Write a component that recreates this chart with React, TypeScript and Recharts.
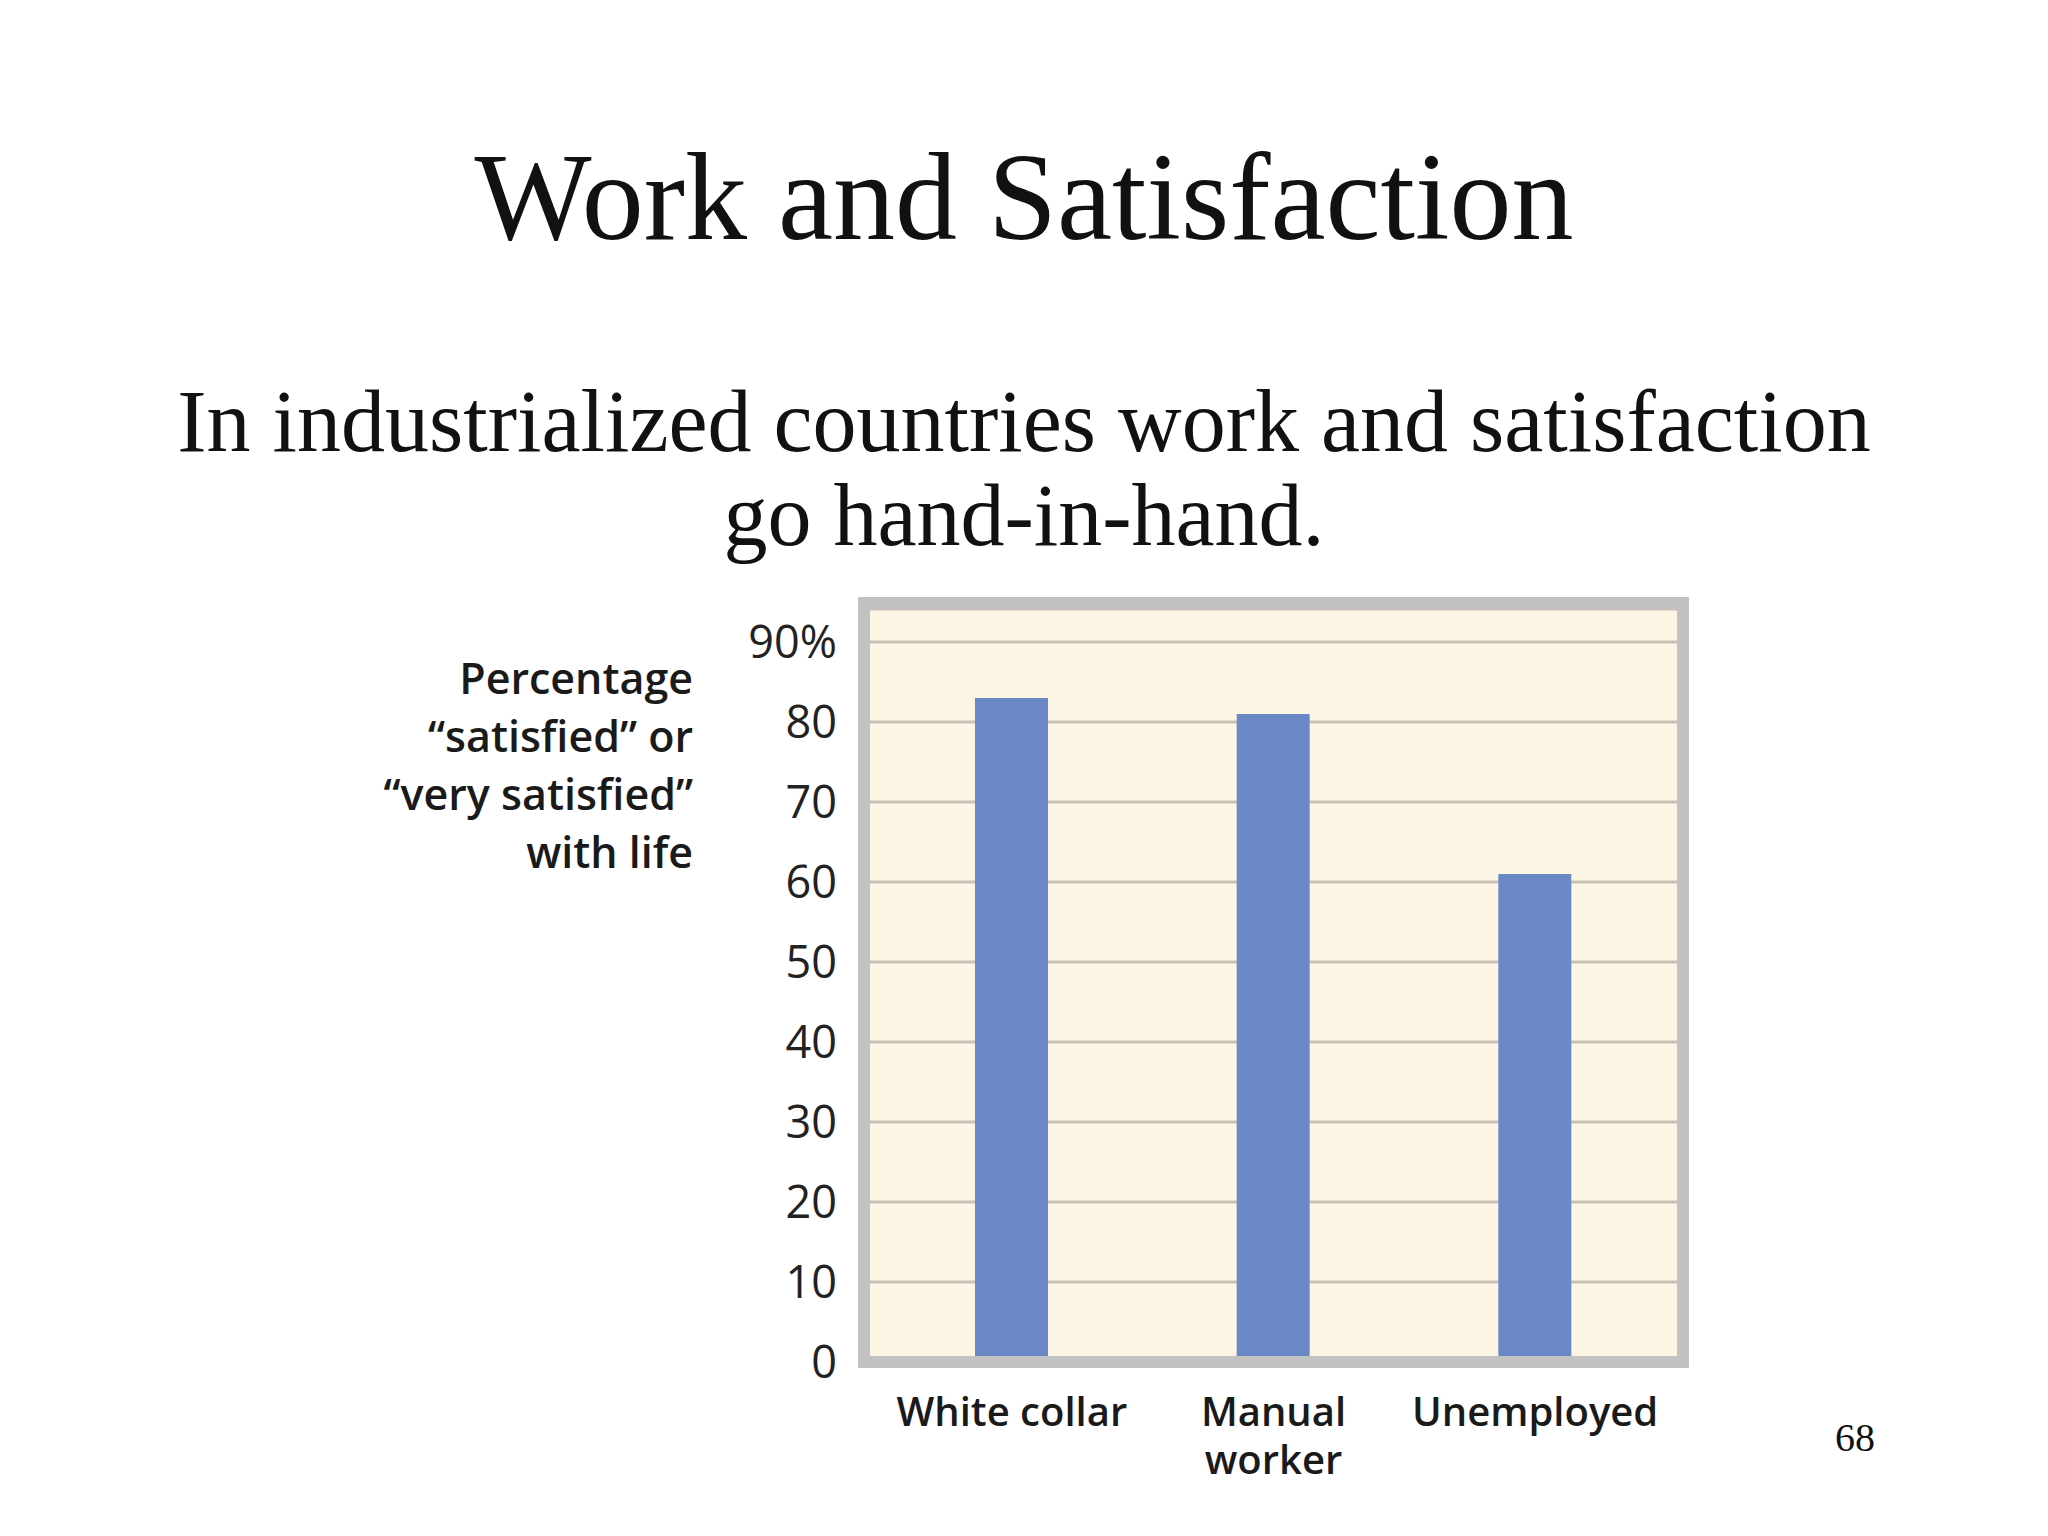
import { BarChart, Bar, XAxis, YAxis, CartesianGrid, Label } from 'recharts'

// values
const categories = ['White collar', 'Manual worker', 'Unemployed']
const satisfied = [83, 81, 61]
const tickLines = [['White collar'], ['Manual', 'worker'], ['Unemployed']]
const yTicks = [0, 10, 20, 30, 40, 50, 60, 70, 80, 90]
const yLabelLines = ['Percentage', '\u201csatisfied\u201d or', '\u201cvery satisfied\u201d', 'with life']

const chartData = categories.map((name, i) => ({ name, value: satisfied[i] }))

const sans = '"Open Sans", "Noto Sans", sans-serif'
const serif = '"Liberation Serif", "DejaVu Serif", serif'

function CategoryTick({ x, y, index }: any) {
  const lines = tickLines[index] || []
  return (
    <text x={x} y={y} textAnchor="middle" fill="#1a1a1a" fontFamily={sans} fontSize={40} fontWeight={600}>
      {lines.map((line, i) => (
        <tspan key={i} x={x} dy={i === 0 ? 64 : 48}>
          {line}
        </tspan>
      ))}
    </text>
  )
}

function AxisTitle() {
  return (
    <text x={393} y={0} textAnchor="end" fill="#1a1a1a" fontFamily={sans} fontSize={43} fontWeight={600}>
      {yLabelLines.map((line, i) => (
        <tspan key={i} x={393} y={114 + i * 58}>
          {line}
        </tspan>
      ))}
    </text>
  )
}

export default function App() {
  return (
    <div style={{ position: 'absolute', left: 0, top: 0, width: 2048, height: 1536, background: '#fff', overflow: 'hidden' }}>
      <div
        style={{
          position: 'absolute',
          left: 0,
          width: 2048,
          top: 136,
          textAlign: 'center',
          fontFamily: serif,
          fontSize: 124,
          lineHeight: '124px',
          color: '#111',
        }}
      >
        Work and Satisfaction
      </div>
      <div
        style={{
          position: 'absolute',
          left: 0,
          width: 2048,
          top: 375,
          textAlign: 'center',
          fontFamily: serif,
          fontSize: 88,
          lineHeight: '94px',
          color: '#111',
        }}
      >
        In industrialized countries work and satisfaction
        <br />
        go hand-in-hand.
      </div>

      <div style={{ position: 'absolute', left: 300, top: 580, width: 1440, height: 920 }}>
        <BarChart width={1440} height={920} data={chartData} margin={{ top: 29, right: 63, left: 0, bottom: 0 }}>
          <CartesianGrid horizontal vertical={false} stroke="#c9c1b5" strokeWidth={3} fill="#fdf5e4" />
          <XAxis
            dataKey="name"
            height={138}
            axisLine={false}
            tickLine={false}
            tickSize={0}
            tickMargin={0}
            padding={{ left: 11, right: 11 }}
            interval={0}
            tick={<CategoryTick />}
          />
          <YAxis
            width={570}
            domain={[0, 94.125]}
            ticks={yTicks}
            axisLine={false}
            tickLine={false}
            tickSize={0}
            tickMargin={33}
            tickFormatter={(v: number) => (v === 90 ? '90%' : String(v))}
            tick={{ fill: '#222', fontSize: 45, fontFamily: sans }}
          >
            <Label content={<AxisTitle />} />
          </YAxis>
          <Bar dataKey="value" fill="#6a88c5" barSize={73} isAnimationActive={false} />
        </BarChart>
        <div
          style={{
            position: 'absolute',
            left: 558,
            top: 17,
            width: 831,
            height: 771,
            boxSizing: 'border-box',
            border: '12px solid #c2c2c2',
            pointerEvents: 'none',
          }}
        />
      </div>

      <div
        style={{
          position: 'absolute',
          left: 1835,
          top: 1418,
          fontFamily: serif,
          fontSize: 40,
          lineHeight: '40px',
          color: '#111',
        }}
      >
        68
      </div>
    </div>
  )
}
